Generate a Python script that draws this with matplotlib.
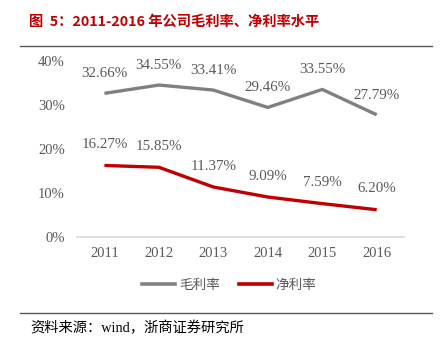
import matplotlib.pyplot as plt
from matplotlib.lines import Line2D

years = ["2011", "2012", "2013", "2014", "2015", "2016"]
gross_margin = [32.66, 34.55, 33.41, 29.46, 33.55, 27.79]
net_margin = [16.27, 15.85, 11.37, 9.09, 7.59, 6.20]
y_ticks = [0, 10, 20, 30, 40]

SERIF = ["Liberation Serif", "Noto Sans CJK SC"]
CJK = ["Noto Sans CJK SC", "DejaVu Sans"]
GRAY = "#808080"
RED = "#C00000"
TXT = "#595959"

fig = plt.figure(figsize=(4.41, 3.47), dpi=100)
ax = fig.add_axes([0.175, 0.317, 0.741, 0.507])

x = list(range(len(years)))
ax.plot(x, gross_margin, color=GRAY, lw=2.4, solid_capstyle="butt", label="毛利率")
ax.plot(x, net_margin, color=RED, lw=2.4, solid_capstyle="butt", label="净利率")

for xi, v in zip(x, gross_margin):
    ax.annotate(f"{v:.2f}%", (xi, v), xytext=(0, 14), textcoords="offset points",
                ha="center", va="center", fontsize=10.8, color=TXT, family=SERIF)
for xi, v in zip(x, net_margin):
    ax.annotate(f"{v:.2f}%", (xi, v), xytext=(0, 15), textcoords="offset points",
                ha="center", va="center", fontsize=10.8, color=TXT, family=SERIF)

ax.set_xlim(-0.5, len(years) - 0.5)
ax.set_ylim(0, 40)
ax.set_xticks(x)
ax.set_xticklabels(years)
ax.set_yticks(y_ticks)
ax.set_yticklabels([f"{t}%" for t in y_ticks])
for lab in ax.get_xticklabels() + ax.get_yticklabels():
    lab.set_family(SERIF)
    lab.set_fontsize(10.5)
    lab.set_color(TXT)
ax.tick_params(length=0, pad=7)
ax.tick_params(axis="y", pad=9)
for s in ["top", "right", "left"]:
    ax.spines[s].set_visible(False)
ax.spines["bottom"].set_color("#D9D9D9")
ax.spines["bottom"].set_linewidth(1.2)

handles = [Line2D([], [], color=GRAY, lw=2.6), Line2D([], [], color=RED, lw=2.6)]
fig.legend(handles, ["毛利率", "净利率"], loc="center", bbox_to_anchor=(0.52, 1 - 285 / 347),
           ncol=2, frameon=False, handlelength=2.4, handletextpad=0.3, columnspacing=1.4,
           prop={"family": CJK, "size": 9.8}, labelcolor=TXT)

# header / footer
fig.text(29 / 441, 1 - 22 / 347, "图  5：2011-2016 年公司毛利率、净利率水平", color=RED,
         fontsize=10.3, fontweight="bold", family=CJK, va="center", ha="left")
fig.add_artist(Line2D([20 / 441, 432 / 441], [1 - 46 / 347] * 2, color="#595959", lw=1.0))
fig.add_artist(Line2D([20 / 441, 432 / 441], [1 - 313 / 347] * 2, color="#595959", lw=1.0))
fig.text(30 / 441, 1 - 328 / 347, "资料来源：wind，浙商证券研究所", color="black",
         fontsize=10.3, family=SERIF, va="center", ha="left")

fig.savefig("out.png", dpi=100)
